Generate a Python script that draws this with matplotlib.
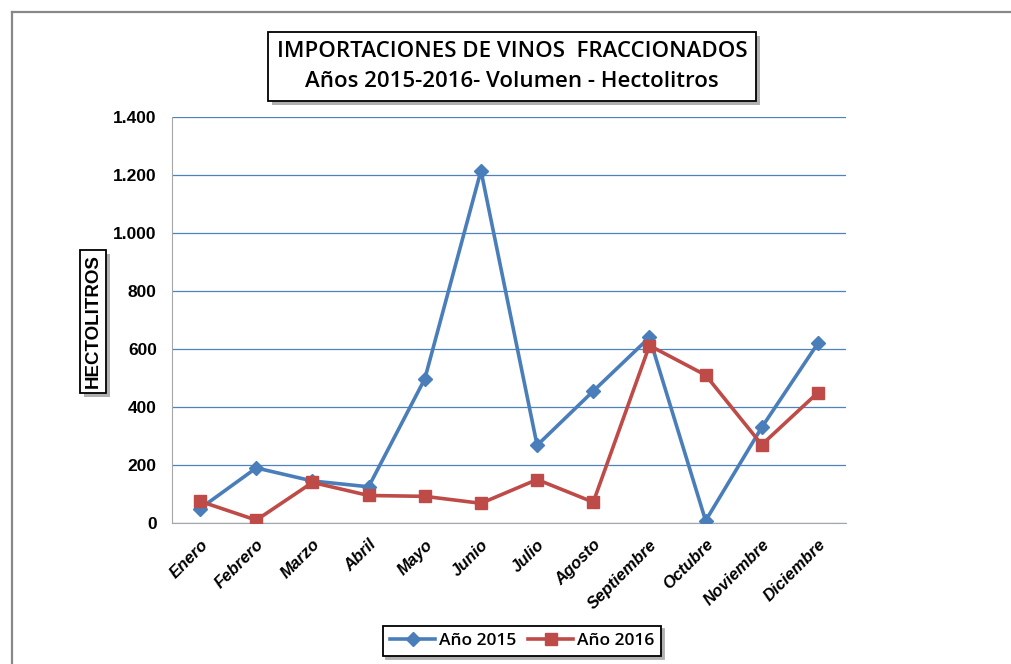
import matplotlib.pyplot as plt
import matplotlib.patheffects as pe
from matplotlib.ticker import FuncFormatter
from matplotlib.lines import Line2D

meses = ['Enero', 'Febrero', 'Marzo', 'Abril', 'Mayo', 'Junio', 'Julio',
         'Agosto', 'Septiembre', 'Octubre', 'Noviembre', 'Diciembre']
anio_2015 = [50, 190, 145, 125, 497, 1215, 268, 455, 640, 8, 330, 620]
anio_2016 = [75, 10, 140, 95, 92, 68, 150, 72, 612, 510, 270, 450]

azul = '#4A7EBB'
rojo = '#BE4B48'

fig = plt.figure(figsize=(10.12, 6.64), dpi=100)
# marco exterior (solo arriba e izquierda visibles)
fig.add_artist(Line2D([12 / 1012, 1], [1 - 12 / 664, 1 - 12 / 664], transform=fig.transFigure,
                      color='#888888', linewidth=1.6))
fig.add_artist(Line2D([12 / 1012, 12 / 1012], [0, 1 - 12 / 664], transform=fig.transFigure,
                      color='#888888', linewidth=1.6))

ax = fig.add_axes([0.170, 0.2123, 0.666, 0.6115])
x = range(len(meses))
ax.plot(x, anio_2015, color=azul, linewidth=2.6, marker='D', markersize=7.5,
        label='Año 2015', zorder=3)
ax.plot(x, anio_2016, color=rojo, linewidth=2.6, marker='s', markersize=9,
        label='Año 2016', zorder=4)

ax.set_xlim(-0.5, 11.5)
ax.set_ylim(0, 1400)
ax.set_yticks(range(0, 1401, 200))
ax.yaxis.set_major_formatter(FuncFormatter(lambda v, p: f'{int(v):,}'.replace(',', '.')))
ax.grid(axis='y', color='#4F81BD', linewidth=0.9)
ax.set_axisbelow(True)
for s in ['top', 'right']:
    ax.spines[s].set_visible(False)
ax.spines['left'].set_color('#a6a6a6')
ax.spines['bottom'].set_color('#a6a6a6')
ax.tick_params(axis='y', length=0, pad=11)
ax.tick_params(axis='x', length=0, pad=10)
ax.set_xticks(list(x))
ax.set_xticklabels(meses, rotation=45, ha='right', rotation_mode='anchor',
                   fontsize=12, fontweight='bold', fontstyle='italic',
                   family='Liberation Sans')
for t in ax.get_yticklabels():
    t.set_fontsize(12.5)
    t.set_fontweight('bold')
    t.set_family('Liberation Sans')

sombra = [pe.withSimplePatchShadow(offset=(3, -3), shadow_rgbFace='#b0b0b0', alpha=1)]

titulo = fig.text(0.506, 0.9, 'IMPORTACIONES DE VINOS  FRACCIONADOS\nAños 2015-2016- Volumen - Hectolitros',
                  ha='center', va='center', fontsize=16, family='Open Sans',
                  fontweight='semibold', linespacing=1.55,
                  bbox=dict(boxstyle='square,pad=0.4', facecolor='white',
                            edgecolor='black', linewidth=1.3))
titulo.get_bbox_patch().set_path_effects(sombra)

ylab = fig.text(0.092, 0.516, 'HECTOLITROS', rotation=90, ha='center', va='center',
                fontsize=13.5, fontweight='bold', family='Liberation Sans',
                bbox=dict(boxstyle='square,pad=0.25', facecolor='white',
                          edgecolor='black', linewidth=1.3))
ylab.get_bbox_patch().set_path_effects(sombra)

leg = fig.legend(loc='center', bbox_to_anchor=(0.516, 0.035), ncol=2, frameon=True,
                 fancybox=False, edgecolor='black', shadow={'color': '#b0b0b0', 'alpha': 1},
                 prop={'family': 'Open Sans', 'size': 12.5, 'weight': 'semibold'},
                 handlelength=2.6, columnspacing=0.7, handletextpad=0.2, borderpad=0.4)
leg.get_frame().set_linewidth(1.3)

fig.savefig('out.png', dpi=100)
